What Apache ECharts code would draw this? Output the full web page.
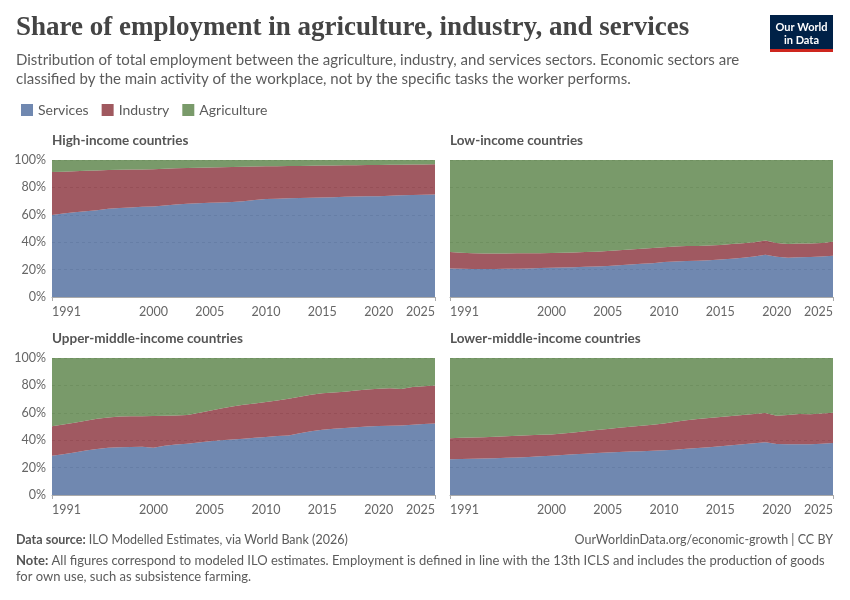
<!DOCTYPE html>
<html><head><meta charset="utf-8">
<script src="https://cdn.jsdelivr.net/npm/echarts@6/dist/echarts.min.js"></script>
<style>html,body{margin:0;padding:0;background:#fff}#c{width:850px;height:600px}</style>
</head><body><div id="c"></div>
<script>
const years = ['1991','1992','1993','1994','1995','1996','1997','1998','1999','2000','2001','2002','2003','2004','2005','2006','2007','2008','2009','2010','2011','2012','2013','2014','2015','2016','2017','2018','2019','2020','2021','2022','2023','2024','2025'];
const xTickLabels = ['1991','2000','2005','2010','2015','2020','2025'];
const yTickLabels = [0,20,40,60,80,100];
const sectorNames = ['Services','Industry','Agriculture'];
const panelTitles = ['High-income countries','Low-income countries','Upper-middle-income countries','Lower-middle-income countries'];

const highServices = [59.8,61.0,61.8,62.6,63.4,64.4,65.0,65.4,65.8,66.0,66.8,67.6,68.0,68.5,68.8,69.0,69.4,69.8,70.8,71.5,71.7,72.0,72.2,72.4,72.6,72.8,73.1,73.3,73.5,73.5,73.9,74.2,74.4,74.6,74.8];
const highIndustry = [31.5,30.5,30.0,29.5,29.0,28.3,27.9,27.6,27.3,27.3,26.8,26.3,26.1,25.8,25.7,25.7,25.5,25.3,24.5,23.9,23.8,23.6,23.5,23.4,23.3,23.2,23.0,22.9,22.8,22.9,22.6,22.4,22.3,22.2,22.1];
const highAgriculture = [8.7,8.5,8.2,7.9,7.6,7.3,7.1,7.0,6.9,6.7,6.4,6.1,5.9,5.7,5.5,5.3,5.1,4.9,4.7,4.6,4.5,4.4,4.3,4.2,4.1,4.0,3.9,3.8,3.7,3.6,3.5,3.4,3.3,3.2,3.1];

const lowServices = [20.8,20.6,20.5,20.5,20.5,20.6,20.7,20.8,21.1,21.4,21.5,21.8,22.1,22.3,22.7,23.2,23.7,24.2,24.7,25.5,25.9,26.3,26.5,26.9,27.4,28.0,28.7,29.6,30.9,29.4,28.7,29.0,29.2,29.6,30.2];
const lowIndustry = [12.1,11.7,11.4,11.3,11.3,11.2,11.2,11.1,10.9,10.7,10.8,10.7,10.7,10.8,10.8,10.9,11.0,11.1,11.1,10.9,11.0,10.9,10.7,10.7,10.6,10.6,10.6,10.3,10.4,10.1,10.0,10.0,9.9,9.9,10.1];
const lowAgriculture = [67.1,67.7,68.1,68.2,68.2,68.2,68.1,68.1,68.0,67.9,67.7,67.5,67.2,66.9,66.5,65.9,65.3,64.7,64.2,63.6,63.1,62.8,62.8,62.4,62.0,61.4,60.7,60.1,58.7,60.5,61.3,61.0,60.9,60.5,59.7];

const upperServices = [28.7,29.8,31.1,32.4,33.6,34.4,34.8,35.1,35.3,34.5,36.0,36.9,37.4,38.3,39.2,40.0,40.5,41.1,41.8,42.4,43.0,43.4,45.0,46.5,47.6,48.4,48.9,49.4,50.0,50.4,50.6,50.7,51.3,51.8,52.2];
const upperIndustry = [21.5,21.6,21.7,21.8,22.0,22.2,22.5,22.3,22.2,23.1,21.8,21.1,21.0,21.5,22.3,23.2,24.1,24.7,25.0,25.4,26.0,26.8,26.8,26.7,26.7,26.5,26.5,26.8,27.0,27.1,27.3,26.7,27.6,27.6,27.8];
const upperAgriculture = [49.8,48.6,47.2,45.8,44.4,43.4,42.7,42.6,42.5,42.4,42.2,42.0,41.6,40.2,38.5,36.8,35.4,34.2,33.2,32.2,31.0,29.8,28.2,26.8,25.7,25.1,24.6,23.8,23.0,22.5,22.1,22.6,21.1,20.6,20.0];

const lowerServices = [26.1,26.3,26.5,26.6,26.8,27.1,27.4,27.8,28.2,28.7,29.2,29.7,30.2,30.7,31.1,31.4,31.7,32.0,32.3,32.6,33.1,33.7,34.3,34.9,35.6,36.3,37.0,37.8,38.5,37.2,37.0,37.0,37.1,37.5,37.9];
const lowerIndustry = [15.4,15.4,15.4,15.6,15.8,15.8,15.9,15.8,15.7,15.5,15.6,15.9,16.3,16.7,17.1,17.6,18.1,18.5,19.0,19.6,20.3,20.9,21.1,21.3,21.4,21.4,21.4,21.4,21.4,20.6,21.4,22.1,21.9,22.0,22.2];
const lowerAgriculture = [58.5,58.3,58.1,57.8,57.4,57.1,56.7,56.4,56.1,55.8,55.2,54.4,53.5,52.6,51.8,51.0,50.2,49.5,48.7,47.8,46.6,45.4,44.6,43.8,43.0,42.3,41.6,40.8,40.1,42.2,41.6,40.9,41.0,40.5,39.9];

const panels = [
  [highServices, highIndustry, highAgriculture],
  [lowServices, lowIndustry, lowAgriculture],
  [upperServices, upperIndustry, upperAgriculture],
  [lowerServices, lowerIndustry, lowerAgriculture]
];

const baseColors = ['#4C6A9C','#883039','#578145'];
const solidColors = ['#7088B0','#A0595F','#799A6A'];
const FONT = 'Lato, "Noto Sans", sans-serif';

const gridPos = [
  {left:52, top:160, width:383, height:137},
  {left:450, top:160, width:383, height:137},
  {left:52, top:358, width:383, height:137},
  {left:450, top:358, width:383, height:137}
];
const showYLabels = [true,false,true,false];

const grids = gridPos.map(g => Object.assign({containLabel:false}, g));
const xAxes = gridPos.map((g,i) => ({
  type:'category', gridIndex:i, data:years, boundaryGap:false,
  axisLine:{show:true, lineStyle:{color:'#aaa', width:1}},
  axisTick:{show:true, length:4, lineStyle:{color:'#aaa'}, interval:(idx)=> idx===0 || idx===years.length-1},
  axisLabel:{
    interval:(idx,val)=> xTickLabels.indexOf(val) >= 0,
    color:'#666', fontFamily:FONT, fontSize:12.5, margin:8,
    alignMinLabel:'left', alignMaxLabel:'right'
  },
  splitLine:{show:false}
}));
const yAxes = gridPos.map((g,i) => ({
  type:'value', gridIndex:i, min:yTickLabels[0], max:yTickLabels[yTickLabels.length-1], interval:20,
  axisLine:{show:false}, axisTick:{show:false},
  axisLabel:{show:showYLabels[i], formatter:'{value}%', color:'#666', fontFamily:FONT, fontSize:12.5, margin:6},
  splitLine:{show:true, lineStyle:{color:'#ccc', type:[3,3], width:1}}
}));

const series = [];
panels.forEach((p,i) => {
  p.forEach((vals,k) => {
    series.push({
      name:sectorNames[k], type:'line', xAxisIndex:i, yAxisIndex:i, stack:'s'+i,
      data:vals, symbol:'none', showSymbol:false, smooth:false,
      lineStyle:{width:0, opacity:0},
      itemStyle:{color:solidColors[k]},
      areaStyle:{color:baseColors[k], opacity:0.8},
      emphasis:{disabled:true}, silent:true
    });
  });
});

const titleGraphics = panelTitles.map((t,i) => ({
  type:'text', left:gridPos[i].left, top:gridPos[i].top - 26,
  style:{text:t, font:'bold 13.5px '+FONT, fill:'#555'}
}));

const option = {
  animation:false,
  backgroundColor:'#fff',
  grid:grids, xAxis:xAxes, yAxis:yAxes, series:series,
  legend:{
    data:sectorNames, left:16, top:98, icon:'rect', itemWidth:12, itemHeight:12, itemGap:13,
    textStyle:{fontFamily:FONT, fontSize:14, color:'#5b5b5b'},
    selectedMode:false
  },
  graphic:[
    {type:'text', left:16, top:15, style:{text:'Share of employment in agriculture, industry, and services', font:'bold 27px "Liberation Serif", "DejaVu Serif", serif', fill:'#444'}},
    {type:'text', left:16, top:51, style:{text:'Distribution of total employment between the agriculture, industry, and services sectors. Economic sectors are\nclassified by the main activity of the workplace, not by the specific tasks the worker performs.', font:'15px '+FONT, fill:'#5b5b5b', lineHeight:19}},
    {type:'rect', shape:{x:770, y:15, width:63, height:35}, style:{fill:'#002147'}},
    {type:'rect', shape:{x:770, y:49, width:63, height:3}, style:{fill:'#CE261E'}},
    {type:'text', x:801.5, y:27, style:{text:'Our World', font:'bold 11px '+FONT, fill:'#fff', align:'center', verticalAlign:'middle'}},
    {type:'text', x:801.5, y:40, style:{text:'in Data', font:'bold 11px '+FONT, fill:'#fff', align:'center', verticalAlign:'middle'}},
    ...titleGraphics,
    {type:'text', left:16, top:533, style:{text:'{b|Data source:} ILO Modelled Estimates, via World Bank (2026)', font:'12.5px '+FONT, fill:'#5b5b5b', rich:{b:{fontWeight:'bold', fontFamily:FONT, fontSize:12.5, fill:'#555'}}}},
    {type:'text', right:17, top:533, style:{text:'OurWorldinData.org/economic-growth | CC BY', font:'12.5px '+FONT, fill:'#5b5b5b'}},
    {type:'text', left:16, top:553, style:{text:'{b|Note:} All figures correspond to modeled ILO estimates. Employment is defined in line with the 13th ICLS and includes the production of goods\nfor own use, such as subsistence farming.', font:'13px '+FONT, fill:'#5b5b5b', lineHeight:16, rich:{b:{fontWeight:'bold', fontFamily:FONT, fontSize:13, fill:'#555'}}}}
  ]
};

const chart = echarts.init(document.getElementById('c'), null, {renderer:'canvas'});
chart.setOption(option);
</script>
</body></html>
